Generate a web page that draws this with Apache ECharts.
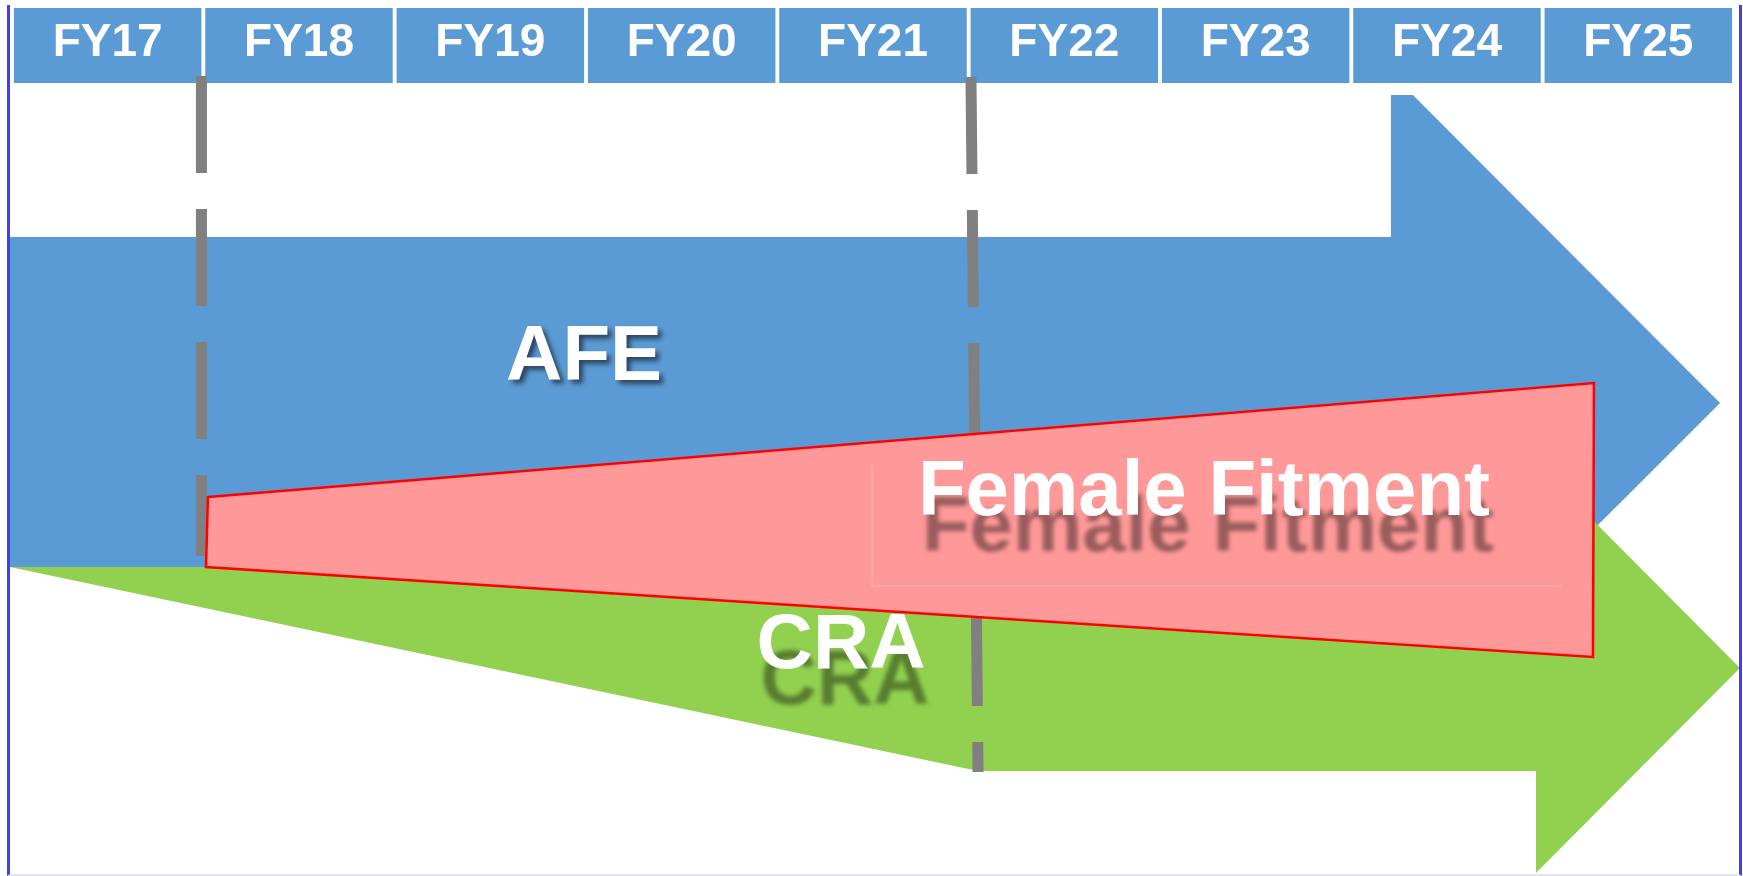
<!DOCTYPE html>
<html>
<head>
<meta charset="utf-8">
<title>AFE / CRA / Female Fitment</title>
<script src="https://cdn.jsdelivr.net/npm/echarts@6/dist/echarts.min.js"></script>
<style>
  html, body { margin: 0; padding: 0; background: #fff; }
  #chart { width: 1743px; height: 876px; }
  .frame {
    position: absolute; left: 7px; top: 5px; width: 1729px; height: 869px;
    border-left: 3px solid #4242D6; border-right: 3px solid #4242D6;
    border-bottom: 2px solid #E4E4F4; pointer-events: none;
  }
</style>
</head>
<body>
<div id="chart"></div>
<div class="frame"></div>
<script>
// fiscal years across the top
const years = ['FY17', 'FY18', 'FY19', 'FY20', 'FY21', 'FY22', 'FY23', 'FY24', 'FY25'];

// x = fiscal-year units (0 = start of FY17), y = height units (0 bottom .. 100 top)
// AFE arrow
const afeX = [-0.016, 7.207, 7.207, 7.322, 8.927, 7.322, 7.207, 7.207, -0.016];
const afeY = [72.95, 72.95, 89.16, 89.16, 54.0, 18.95, 18.95, 35.27, 35.27];

// CRA arrow
const craX = [-0.010, 7.965, 7.965, 9.031, 7.965, 7.965, 5.049];
const craY = [35.27, 35.27, 47.15, 23.74, 0.34, 11.99, 11.99];

// Female Fitment wedge
const fitX = [1.024, 8.268, 8.263, 1.014];
const fitY = [43.26, 56.28, 25.0, 35.27];

// faint text-box edge inside the wedge
const boxX = [4.495, 4.495, 8.096];
const boxY = [46.92, 33.10, 33.10];

// dashed milestone lines
const milestoneTopX = [0.990, 5.012];
const milestoneBottomX = [0.990, 5.049];
const milestoneTop = [91.32, 91.21];
const milestoneBottom = [36.53, 11.87];

// labels
const labels = ['AFE', 'CRA', 'Female Fitment'];
const labelX = [2.990, 4.333, 6.230];
const labelY = [59.05, 26.15, 43.65];

const FONT = '"Liberation Sans", Arial, sans-serif';
const headerTop = 99.09, headerBottom = 90.53, headerText = 95.0;

const chart = echarts.init(document.getElementById('chart'));

function polygonSeries(xs, ys, style, z) {
    return {
        type: 'custom',
        z: z,
        silent: true,
        data: [[xs[0], ys[0]]],
        renderItem: function (params, api) {
            const pts = xs.map(function (x, i) { return api.coord([x, ys[i]]); });
            return { type: 'polygon', shape: { points: pts }, style: style };
        }
    };
}

const option = {
    animation: false,
    grid: { left: 12, right: 9, top: 0, bottom: 0 },
    xAxis: { type: 'value', min: 0, max: 9, show: false },
    yAxis: { type: 'value', min: 0, max: 100, show: false },
    series: [
        // year header boxes
        {
            type: 'custom',
            z: 1,
            silent: true,
            data: years.map(function (y, i) { return [i + 0.5, headerText]; }),
            renderItem: function (params, api) {
                const i = params.dataIndex;
                const p1 = api.coord([i + 0.01, headerTop]);
                const p2 = api.coord([i + 0.99, headerBottom]);
                const c = api.coord([api.value(0), api.value(1)]);
                return {
                    type: 'group',
                    children: [
                        { type: 'rect', shape: { x: p1[0], y: p1[1], width: p2[0] - p1[0], height: p2[1] - p1[1] },
                          style: { fill: '#5B9BD5' } },
                        { type: 'text', x: c[0], y: c[1],
                          style: { text: years[i], fill: '#fff', font: 'bold 46px ' + FONT, align: 'center', verticalAlign: 'middle' } }
                    ]
                };
            }
        },
        polygonSeries(afeX, afeY, { fill: '#5B9BD5' }, 2),
        polygonSeries(craX, craY, { fill: '#92D050' }, 3),
        // dashed milestone lines
        {
            type: 'custom',
            z: 4,
            silent: true,
            data: milestoneTopX.map(function (x, i) { return [x, milestoneTop[i]]; }),
            renderItem: function (params, api) {
                const i = params.dataIndex;
                const a = api.coord([milestoneTopX[i], milestoneTop[i]]);
                const b = api.coord([milestoneBottomX[i], milestoneBottom[i]]);
                return {
                    type: 'line',
                    shape: { x1: a[0], y1: a[1], x2: b[0], y2: b[1] },
                    style: { stroke: '#808080', lineWidth: 11, lineDash: [97, 36], lineCap: 'butt' }
                };
            }
        },
        polygonSeries(fitX, fitY, { fill: '#FF9999', stroke: '#FF0000', lineWidth: 2.5, lineJoin: 'miter' }, 5),
        // faint text box edge
        {
            type: 'custom',
            z: 6,
            silent: true,
            data: [[boxX[0], boxY[0]]],
            renderItem: function (params, api) {
                const pts = boxX.map(function (x, i) { return api.coord([x, boxY[i]]); });
                return { type: 'polyline', shape: { points: pts }, style: { stroke: 'rgba(255,255,255,0.3)', lineWidth: 1, fill: null } };
            }
        },
        // big labels with shadows
        {
            type: 'custom',
            z: 7,
            silent: true,
            data: labels.map(function (t, i) { return [labelX[i], labelY[i]]; }),
            renderItem: function (params, api) {
                const i = params.dataIndex;
                const c = api.coord([api.value(0), api.value(1)]);
                const far = i > 0;
                return {
                    type: 'text', x: c[0], y: c[1],
                    style: {
                        text: labels[i], fill: '#fff', font: 'bold 78px ' + FONT,
                        align: 'center', verticalAlign: 'middle',
                        textShadowColor: far ? 'rgba(0,0,0,0.4)' : 'rgba(0,0,0,0.55)',
                        textShadowBlur: far ? 4 : 5,
                        textShadowOffsetX: 4,
                        textShadowOffsetY: far ? 36 : 4
                    }
                };
            }
        }
    ]
};

chart.setOption(option);

window.addEventListener('resize', function () {
    chart.resize();
});
</script>
</body>
</html>
